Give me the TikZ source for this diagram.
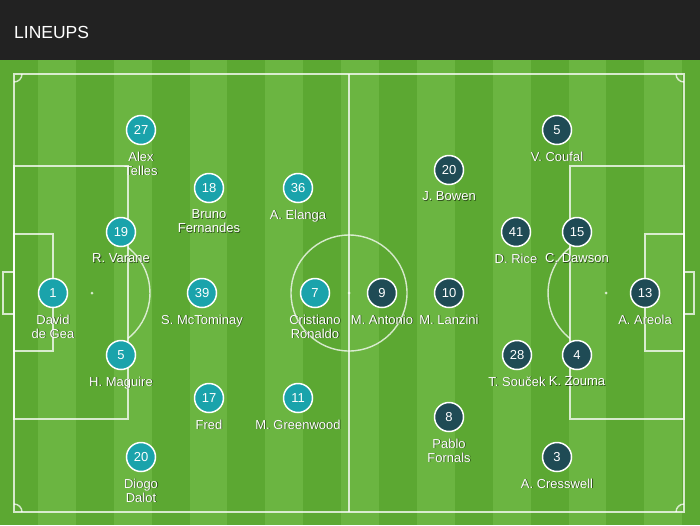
\documentclass[tikz,border=0pt]{standalone}
\usepackage{fontspec}
\setmainfont{Liberation Sans}
\definecolor{header}{HTML}{222222}
\definecolor{grassdark}{RGB}{92,168,50}
\definecolor{grasslight}{RGB}{107,181,65}
\definecolor{united}{HTML}{1AA3AB}
\definecolor{hammers}{HTML}{1F4B55}

\begin{document}
\begin{tikzpicture}[x=1pt,y=-1pt,
  pitchline/.style={draw=white,draw opacity=.75,line width=1.4pt},
  shirt/.style={circle,draw=white,line width=1.5pt,minimum size=29pt,inner sep=0pt,text=white,font=\fontsize{13}{14}\selectfont},
  pname/.style={anchor=north,align=center,inner sep=0pt,text=white,font=\fontsize{13}{14}\selectfont},
  pshadow/.style={pname,text=black,opacity=.55}]
\useasboundingbox (0,0) rectangle (700,525);
% header
\fill[header] (0,0) rectangle (700,60);
\node[anchor=base west,inner sep=0pt,text=white,font=\fontsize{17.5}{20}\selectfont] (title) at (14,38) {LINEUPS};
% grass
\fill[grassdark] (0,60) rectangle (700,525);
\foreach \i in {1,3,...,17}
  \fill[grasslight] (\i*37.9,60) rectangle (\i*37.9+37.9,525);
% lines
\draw[pitchline] (14,74) rectangle (684,512);
\draw[pitchline] (349,74) -- (349,512);
\draw[pitchline] (349,293) circle (58);
\draw[pitchline] (14,166) rectangle (128,419);
\draw[pitchline] (14,234) rectangle (53,351);
\draw[pitchline] (3,272) rectangle (14,314);
\draw[pitchline] (570,166) rectangle (684,419);
\draw[pitchline] (645,234) rectangle (684,351);
\draw[pitchline] (684,272) rectangle (694,314);
\draw[pitchline] (128,247.5) arc[start angle=-51.6,end angle=51.6,radius=58];
\draw[pitchline] (570,338.5) arc[start angle=128.4,end angle=231.6,radius=58];
\draw[pitchline] (22,74) arc[start angle=0,end angle=90,radius=8];
\draw[pitchline] (676,74) arc[start angle=180,end angle=90,radius=8];
\draw[pitchline] (14,504) arc[start angle=270,end angle=360,radius=8];
\draw[pitchline] (676,512) arc[start angle=180,end angle=270,radius=8];
\fill[white,opacity=.75] (349,293) circle (1.5) (92,293) circle (1.5) (606,293) circle (1.5);
% man utd
\foreach \x/\y/\n/\name in {53/293/1/{David\\de Gea}, 121/232/19/{R. Varane}, 121/355/5/{H. Maguire},
  141/130/27/{Alex\\Telles}, 141/457/20/{Diogo\\Dalot}, 202/293/39/{S. McTominay},
  209/188/18/{Bruno\\Fernandes}, 209/398/17/{Fred}, 298/188/36/{A. Elanga},
  298/398/11/{M. Greenwood}, 315/293/7/{Cristiano\\Ronaldo}}{
  \node[shirt,fill=united] (mu\n) at (\x,\y) {\n};
  \node[pshadow] (mu\n-shadow) at (\x+0.8,\y+22.3) {\name};
  \node[pname] (mu\n-name) at (\x,\y+21.5) {\name};
}
% west ham
\foreach \x/\y/\n/\name in {382/293/9/{M. Antonio}, 449/293/10/{M. Lanzini}, 449/170/20/{J. Bowen},
  449/417/8/{Pablo\\Fornals}, 557/130/5/{V. Coufal}, 516/232/41/{D. Rice},
  577/232/15/{C. Dawson}, 517/355/28/{T. Souček}, 577/355/4/{K. Zouma},
  645/293/13/{A. Areola}, 557/457/3/{A. Cresswell}}{
  \node[shirt,fill=hammers] (wh\n) at (\x,\y) {\n};
  \node[pshadow] (wh\n-shadow) at (\x+0.8,\y+22.3) {\name};
  \node[pname] (wh\n-name) at (\x,\y+21.5) {\name};
}
\end{tikzpicture}
\end{document}
